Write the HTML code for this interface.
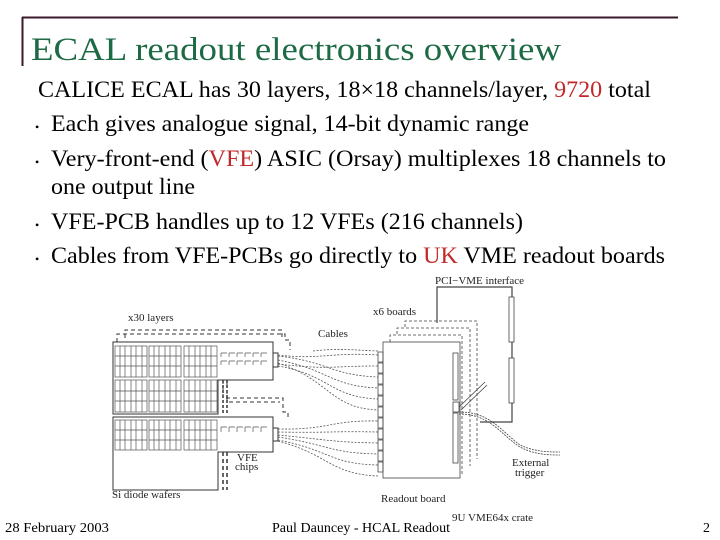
<!DOCTYPE html>
<html><head><meta charset="utf-8"><style>
html,body{margin:0;padding:0;background:#fff;}
svg{display:block;}
text{font-family:"Liberation Serif",serif;}
</style></head><body>
<svg width="720" height="540" viewBox="0 0 720 540" xmlns="http://www.w3.org/2000/svg">
<rect width="720" height="540" fill="#fff"/>
<line x1="22" y1="17.5" x2="678" y2="17.5" stroke="#3a1a2a" stroke-width="2"/>
<line x1="22.5" y1="17" x2="22.5" y2="66" stroke="#3a1a2a" stroke-width="2"/>
<text x="31" y="60" font-size="33" fill="#1e6a44" textLength="530" lengthAdjust="spacingAndGlyphs">ECAL readout electronics overview</text>
<g font-size="23" fill="#000">
<text x="38" y="97" textLength="613" lengthAdjust="spacingAndGlyphs">CALICE ECAL has 30 layers, 18×18 channels/layer, <tspan fill="#c0282a">9720</tspan> total</text>
<text x="35" y="131" font-size="12">•</text>
<text x="51" y="131" textLength="478" lengthAdjust="spacingAndGlyphs">Each gives analogue signal, 14-bit dynamic range</text>
<text x="35" y="166" font-size="12">•</text>
<text x="51" y="166" textLength="615" lengthAdjust="spacingAndGlyphs">Very-front-end (<tspan fill="#c0282a">VFE</tspan>) ASIC (Orsay) multiplexes 18 channels to</text>
<text x="51" y="194" textLength="144" lengthAdjust="spacingAndGlyphs">one output line</text>
<text x="35" y="229" font-size="12">•</text>
<text x="51" y="229" textLength="472" lengthAdjust="spacingAndGlyphs">VFE-PCB handles up to 12 VFEs (216 channels)</text>
<text x="35" y="263" font-size="12">•</text>
<text x="51" y="263" textLength="614" lengthAdjust="spacingAndGlyphs">Cables from VFE-PCBs go directly to <tspan fill="#c0282a">UK</tspan> VME readout boards</text>
</g>
<g stroke="#333" fill="none" stroke-width="1">
<path d="M117,342 V334 H285 V340 H290 V350" stroke-dasharray="4,3"/>
<path d="M125,338 V330 H282 V338" stroke-dasharray="4,3"/>
<path d="M223,380 V398 H283 V412 H288 V420" stroke-dasharray="4,3"/>
<path d="M227,383 V402 H280" stroke-dasharray="4,3"/>
<path d="M223,452 V490 M227,452 V490" stroke-dasharray="4,3" stroke-width="1.5"/>
<path d="M223,380 V414 M227,380 V414" stroke-dasharray="3,2" stroke-width="1.5"/>
<path d="M113,342 H273 V380 H218 V414 H113 Z"/>
<path d="M113,417 H273 V452 H218 V490 H113 Z"/>
<rect x="273" y="353" width="5" height="14"/>
<rect x="273" y="428" width="5" height="13"/>
</g>
<g stroke="#555" fill="none" stroke-width="0.7">
<rect x="115" y="346" width="32" height="31"/><rect x="149" y="346" width="32" height="31"/><rect x="184" y="346" width="33" height="31"/>
<rect x="115" y="380" width="32" height="32"/><rect x="149" y="380" width="32" height="32"/><rect x="184" y="380" width="33" height="32"/>
<rect x="115" y="420" width="32" height="30"/><rect x="149" y="420" width="32" height="30"/><rect x="184" y="420" width="33" height="30"/>
<path d="M120,346V377M125,346V377M131,346V377M136,346V377M142,346V377 M154,346V377M159,346V377M165,346V377M170,346V377M176,346V377 M189,346V377M195,346V377M200,346V377M206,346V377M211,346V377
M115,356H147M115,366H147M149,356H181M149,366H181M184,356H217M184,366H217
M120,380V412M125,380V412M131,380V412M136,380V412M142,380V412 M154,380V412M159,380V412M165,380V412M170,380V412M176,380V412 M189,380V412M195,380V412M200,380V412M206,380V412M211,380V412
M115,391H147M115,401H147M149,391H181M149,401H181M184,391H217M184,401H217
M120,420V450M125,420V450M131,420V450M136,420V450M142,420V450 M154,420V450M159,420V450M165,420V450M170,420V450M176,420V450 M189,420V450M195,420V450M200,420V450M206,420V450M211,420V450
M115,430H147M115,440H147M149,430H181M149,440H181M184,430H217M184,440H217"/>
<path d="M221,353h6M229,353h6M237,353h6M245,353h6M253,353h6M261,353h6 M221,353v4M229,353v4M237,353v4M245,353v4M253,353v4M261,353v4
M221,361h6M229,361h6M237,361h6M245,361h6M253,361h6M261,361h6 M221,361v4M229,361v4M237,361v4M245,361v4M253,361v4M261,361v4
M221,427h6M229,427h6M237,427h6M245,427h6M253,427h6M261,427h6 M221,427v5M229,427v5M237,427v5M245,427v5M253,427v5M261,427v5"/>
</g>
<g stroke="#555" fill="none" stroke-width="0.8" stroke-dasharray="2,1.5">
<path d="M278,355 C320,360 330,352 378,355"/>
<path d="M278,364 C330,370 330,366 378,366"/>
<path d="M278,356 C330,362 330,375 378,377"/>
<path d="M278,360 C330,370 330,386 378,388"/>
<path d="M278,366 C330,375 330,397 378,399"/>
<path d="M278,363 C330,380 330,408 378,410"/>
<path d="M278,429 C330,430 330,420 378,421"/>
<path d="M278,432 C330,433 330,431 378,432"/>
<path d="M278,435 C330,440 330,442 378,443"/>
<path d="M278,437 C330,445 330,453 378,454"/>
<path d="M278,440 C330,450 330,464 378,465"/>
<path d="M278,441 C330,455 330,474 378,476"/>
<path d="M313,351 C340,348 350,350 378,351"/>
</g>
<g stroke="#444" fill="none" stroke-width="0.8">
<path d="M390,342 V335 H462 V474" stroke-dasharray="3,2"/>
<path d="M397,334 V328 H470 V466" stroke-dasharray="3,2"/>
<path d="M405,327 V321 H477 V459" stroke-dasharray="3,2"/>
<rect x="383" y="342" width="77" height="136"/>
<path d="M378,352h5v10h-5zM378,363h5v10h-5zM378,374h5v10h-5zM378,385h5v10h-5zM378,396h5v10h-5zM378,407h5v10h-5zM378,418h5v10h-5zM378,429h5v10h-5zM378,440h5v10h-5zM378,451h5v10h-5zM378,462h5v10h-5z"/>
<rect x="453" y="353" width="5" height="47"/>
<rect x="453" y="413" width="5" height="50"/>
<rect x="453" y="402" width="6" height="10"/>
<path d="M459,407 L485,382 M461,410 L487,385"/>
<path d="M437,323 V287 H512 V422 H480" stroke-width="1.2"/>
<rect x="509" y="297" width="5" height="45" fill="#fff"/>
<rect x="509" y="358" width="5" height="45" fill="#fff"/>
<path d="M459,412 C490,412 500,430 520,445 C535,452 550,452 560,452" stroke-dasharray="2,1"/>
<path d="M459,414 C490,414 500,434 520,447 C535,455 550,455 560,455" stroke-dasharray="2,1"/>
</g>
<g font-size="11" fill="#222">
<text x="435" y="284">PCI−VME interface</text>
<text x="373" y="315">x6 boards</text>
<text x="318" y="337">Cables</text>
<text x="128" y="321">x30 layers</text>
<text x="237" y="461">VFE</text>
<text x="235" y="470">chips</text>
<text x="112" y="498">Si diode wafers</text>
<text x="381" y="502">Readout board</text>
<text x="452" y="521">9U VME64x crate</text>
<text x="512" y="466">External</text>
<text x="515" y="476">trigger</text>
</g>
<g font-size="14" fill="#000">
<text x="5" y="532" textLength="104" lengthAdjust="spacingAndGlyphs">28 February 2003</text>
<text x="272" y="532" textLength="178" lengthAdjust="spacingAndGlyphs">Paul Dauncey - HCAL Readout</text>
<text x="703" y="532">2</text>
</g>
</svg>
</body></html>
